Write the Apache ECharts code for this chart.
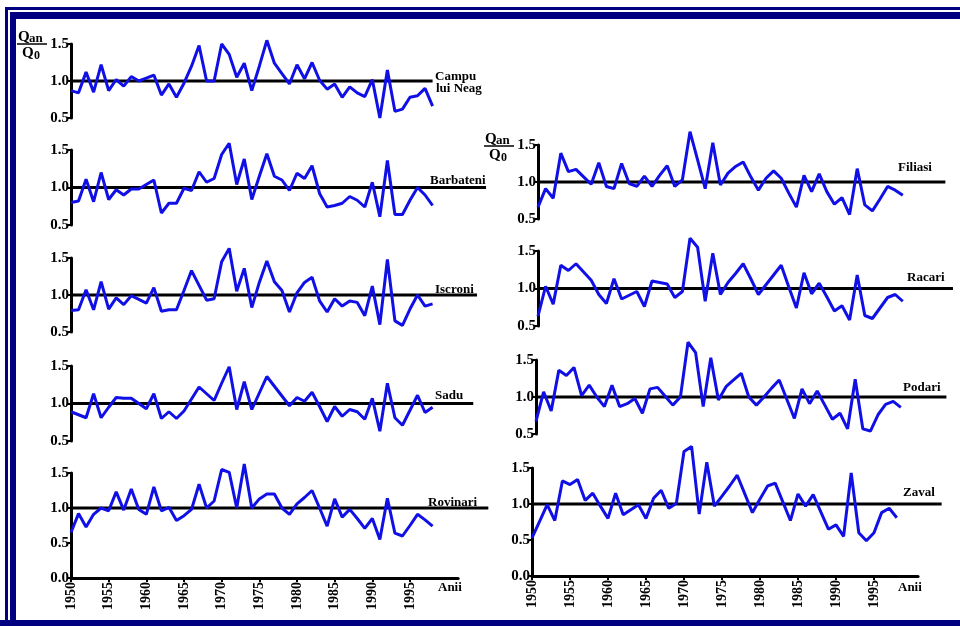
<!DOCTYPE html>
<html>
<head>
<meta charset="utf-8">
<title>Qan/Q0</title>
<script src="https://cdn.jsdelivr.net/npm/echarts@6/dist/echarts.min.js"></script>
<style>
  html, body { margin: 0; padding: 0; background: #fff; }
  #wrap { position: relative; width: 960px; height: 626px; overflow: hidden; }
  #chart { position: absolute; left: 0; top: 0; width: 960px; height: 626px; }
  .band { position: absolute; background: #000080; }
</style>
</head>
<body>
<div id="wrap">
  <div id="chart"></div>
  <!-- navy frame of the scanned figure -->
  <div class="band" style="left:5px;top:7px;width:955px;height:3px"></div>
  <div class="band" style="left:5px;top:7px;width:3px;height:619px"></div>
  <div class="band" style="left:10px;top:12px;width:950px;height:7px"></div>
  <div class="band" style="left:10px;top:12px;width:6px;height:614px"></div>
  <div class="band" style="left:0;top:620px;width:960px;height:6px"></div>
</div>
<script>
// years of the record
const years = [1950, 1951, 1952, 1953, 1954, 1955, 1956, 1957, 1958, 1959,
  1960, 1961, 1962, 1963, 1964, 1965, 1966, 1967, 1968, 1969,
  1970, 1971, 1972, 1973, 1974, 1975, 1976, 1977, 1978, 1979,
  1980, 1981, 1982, 1983, 1984, 1985, 1986, 1987, 1988, 1989,
  1990, 1991, 1992, 1993, 1994, 1995, 1996, 1997, 1998];

// tick labels
const yearTicks = [1950, 1955, 1960, 1965, 1970, 1975, 1980, 1985, 1990, 1995];
const yTicksTop = [0.5, 1.0, 1.5];
const yTicksBottom = [0.0, 0.5, 1.0, 1.5];

// Qan/Q0 per station
const campu = [0.87, 0.84, 1.12, 0.85, 1.22, 0.87, 1.02, 0.93, 1.06, 1.00,
  1.04, 1.08, 0.81, 0.96, 0.78, 0.97, 1.20, 1.48, 1.00, 1.00,
  1.50, 1.36, 1.05, 1.24, 0.87, 1.20, 1.55, 1.24, 1.10, 0.96,
  1.22, 1.03, 1.25, 1.01, 0.89, 0.96, 0.78, 0.92, 0.84, 0.79,
  1.02, 0.50, 1.15, 0.59, 0.62, 0.78, 0.80, 0.90, 0.66];
const barbateni = [0.80, 0.82, 1.11, 0.81, 1.20, 0.84, 0.97, 0.90, 0.98, 0.98,
  1.04, 1.10, 0.66, 0.79, 0.79, 0.99, 0.96, 1.21, 1.07, 1.12,
  1.44, 1.59, 1.04, 1.38, 0.84, 1.15, 1.45, 1.15, 1.10, 0.96,
  1.19, 1.12, 1.29, 0.92, 0.74, 0.76, 0.79, 0.88, 0.83, 0.74,
  1.07, 0.61, 1.36, 0.64, 0.64, 0.83, 1.00, 0.90, 0.76];
const iscroni = [0.79, 0.80, 1.07, 0.80, 1.18, 0.81, 0.96, 0.87, 0.99, 0.94,
  0.89, 1.10, 0.78, 0.80, 0.80, 1.06, 1.33, 1.13, 0.93, 0.95,
  1.45, 1.63, 1.05, 1.36, 0.83, 1.17, 1.46, 1.18, 1.06, 0.77,
  1.03, 1.17, 1.24, 0.92, 0.77, 0.95, 0.85, 0.92, 0.90, 0.72,
  1.12, 0.60, 1.48, 0.65, 0.59, 0.81, 1.00, 0.85, 0.88];
const sadu = [0.89, 0.85, 0.81, 1.13, 0.81, 0.95, 1.08, 1.07, 1.07, 1.00,
  0.93, 1.13, 0.80, 0.89, 0.80, 0.90, 1.06, 1.22, 1.13, 1.04,
  1.27, 1.49, 0.92, 1.29, 0.92, 1.14, 1.36, 1.23, 1.10, 0.97,
  1.08, 1.03, 1.15, 0.96, 0.76, 0.96, 0.83, 0.92, 0.89, 0.79,
  1.07, 0.63, 1.27, 0.81, 0.71, 0.91, 1.11, 0.88, 0.95];
const rovinari = [0.65, 0.92, 0.73, 0.91, 1.00, 0.96, 1.23, 0.97, 1.27, 0.98,
  0.91, 1.30, 0.96, 1.01, 0.82, 0.89, 0.98, 1.34, 1.00, 1.10,
  1.55, 1.51, 1.00, 1.63, 1.00, 1.13, 1.20, 1.20, 1.00, 0.91,
  1.06, 1.15, 1.25, 1.00, 0.74, 1.13, 0.87, 0.98, 0.85, 0.71,
  0.85, 0.55, 1.14, 0.64, 0.60, 0.75, 0.91, 0.83, 0.74];
const filiasi = [0.66, 0.91, 0.78, 1.39, 1.14, 1.17, 1.07, 0.97, 1.26, 0.94,
  0.91, 1.25, 0.98, 0.94, 1.08, 0.94, 1.09, 1.22, 0.94, 1.03,
  1.68, 1.30, 0.91, 1.53, 0.96, 1.12, 1.21, 1.27, 1.07, 0.89,
  1.05, 1.15, 1.05, 0.85, 0.66, 1.09, 0.87, 1.11, 0.87, 0.70,
  0.79, 0.56, 1.18, 0.69, 0.61, 0.77, 0.94, 0.89, 0.82];
const racari = [0.63, 1.03, 0.79, 1.31, 1.24, 1.33, 1.22, 1.11, 0.92, 0.80,
  1.13, 0.86, 0.91, 0.96, 0.76, 1.10, 1.08, 1.06, 0.88, 0.96,
  1.67, 1.55, 0.83, 1.47, 0.92, 1.08, 1.20, 1.33, 1.13, 0.92,
  1.05, 1.18, 1.31, 1.02, 0.74, 1.21, 0.93, 1.07, 0.89, 0.70,
  0.77, 0.58, 1.18, 0.64, 0.60, 0.74, 0.88, 0.92, 0.83];
const podari = [0.67, 1.07, 0.81, 1.36, 1.29, 1.40, 1.02, 1.16, 1.00, 0.87,
  1.16, 0.87, 0.91, 0.98, 0.78, 1.11, 1.13, 1.01, 0.89, 1.00,
  1.74, 1.60, 0.87, 1.53, 0.96, 1.14, 1.23, 1.32, 1.00, 0.89,
  1.00, 1.12, 1.23, 0.97, 0.71, 1.11, 0.91, 1.08, 0.89, 0.70,
  0.78, 0.57, 1.24, 0.57, 0.54, 0.76, 0.90, 0.94, 0.86];
const zaval = [0.53, 0.76, 0.99, 0.77, 1.32, 1.27, 1.34, 1.05, 1.15, 0.97,
  0.80, 1.15, 0.85, 0.92, 0.99, 0.80, 1.08, 1.19, 0.94, 1.01,
  1.73, 1.80, 0.86, 1.58, 0.97, 1.11, 1.25, 1.40, 1.14, 0.88,
  1.07, 1.25, 1.29, 1.03, 0.77, 1.14, 0.97, 1.13, 0.89, 0.65,
  0.71, 0.55, 1.43, 0.60, 0.49, 0.60, 0.88, 0.94, 0.81];

const FONT = '"Liberation Serif", "Times New Roman", serif';
const LINE = '#1010e6';

// layout of the two columns (px per year, end of the year axis)
const leftCol = { pxYear: 7.533, xMax: 2001.4 };
const rightCol = { pxYear: 7.6, xMax: 2000.8 };

// refEnd: where the black 1.0 line stops (in years)
const panels = [
  { data: campu,     col: leftCol,  left: 71,  top: 44,  height: 74,  last: false, refEnd: 1998.0,
    names: [['Campu', 435, 70.5], ['lui Neag', 436, 82.5]] },
  { data: barbateni, col: leftCol,  left: 71,  top: 150, height: 75,  last: false, refEnd: 2005.1,
    names: [['Barbateni', 430, 174.5]] },
  { data: iscroni,   col: leftCol,  left: 71,  top: 258, height: 74,  last: false, refEnd: 2003.9,
    names: [['Iscroni', 435, 283]] },
  { data: sadu,      col: leftCol,  left: 71,  top: 366, height: 75,  last: false, refEnd: 2003.4,
    names: [['Sadu', 435, 389.5]] },
  { data: rovinari,  col: leftCol,  left: 71,  top: 473, height: 105, last: true,  refEnd: 2005.4,
    names: [['Rovinari', 428, 496.5], ['Anii', 438, 581.5]] },
  { data: filiasi,   col: rightCol, left: 538, top: 145, height: 74,  last: false, refEnd: 2003.6,
    names: [['Filiasi', 898, 161.5]] },
  { data: racari,    col: rightCol, left: 538, top: 251, height: 75,  last: false, refEnd: 2004.6,
    names: [['Racari', 907, 271.5]] },
  { data: podari,    col: rightCol, left: 536, top: 360, height: 74,  last: false, refEnd: 2004.0,
    names: [['Podari', 903, 381.5]] },
  { data: zaval,     col: rightCol, left: 532, top: 468, height: 108, last: true,  refEnd: 2003.9,
    names: [['Zaval', 903, 486.5], ['Anii', 898, 581]] }
];

const grid = [], xAxis = [], yAxis = [], series = [], graphic = [];
const n = panels.length;

panels.forEach((p, i) => {
  const yt = p.last ? yTicksBottom : yTicksTop;
  // data grid
  grid.push({
    left: p.left, top: p.top, height: p.height,
    width: (p.col.xMax - 1950) * p.col.pxYear,
    outerBoundsMode: 'none'
  });
  xAxis.push({
    gridIndex: i, type: 'value', min: 1950, max: p.col.xMax,
    show: p.last,
    axisLine: { show: true, onZero: false, lineStyle: { color: '#000', width: 3 } },
    axisTick: { show: true, customValues: yearTicks, length: 4, lineStyle: { color: '#000', width: 2 } },
    axisLabel: {
      customValues: yearTicks, rotate: 90, margin: 4,
      color: '#000', fontFamily: FONT, fontWeight: 'bold', fontSize: 14,
      formatter: v => String(v)
    },
    splitLine: { show: false }
  });
  yAxis.push({
    gridIndex: i, type: 'value', min: yt[0], max: 1.5,
    axisLine: { show: true, onZero: false, lineStyle: { color: '#000', width: 3 } },
    axisTick: { show: true, customValues: yt, length: 3, lineStyle: { color: '#000', width: 2 } },
    axisLabel: {
      customValues: yt, margin: 2,
      color: '#000', fontFamily: FONT, fontWeight: 'bold', fontSize: 15,
      formatter: v => v.toFixed(1)
    },
    splitLine: { show: false }
  });
  series.push({
    type: 'line', xAxisIndex: i, yAxisIndex: i, clip: false,
    symbol: 'none', z: 3,
    lineStyle: { color: LINE, width: 3 },
    data: years.map((y, k) => [y, p.data[k]])
  });
  p.names.forEach(t => {
    graphic.push({
      type: 'text', left: t[1], top: t[2],
      style: { text: t[0], font: 'bold 13px ' + FONT, fill: '#000' }
    });
  });
});

// hidden twin grids, same scale, carrying the Qan/Q0 = 1 line past the axis end
panels.forEach((p, i) => {
  const yt = p.last ? yTicksBottom : yTicksTop;
  grid.push({
    left: p.left, top: p.top, height: p.height,
    width: (p.refEnd - 1950) * p.col.pxYear,
    outerBoundsMode: 'none'
  });
  xAxis.push({ gridIndex: n + i, type: 'value', min: 1950, max: p.refEnd, show: false });
  yAxis.push({ gridIndex: n + i, type: 'value', min: yt[0], max: 1.5, show: false });
  series.push({
    type: 'line', xAxisIndex: n + i, yAxisIndex: n + i, silent: true,
    symbol: 'none', z: 2,
    lineStyle: { color: '#000', width: 3 },
    data: [[1950, 1], [p.refEnd, 1]]
  });
});

// Qan / Q0 axis captions
function fraction(x, y) {
  return [
    { type: 'text', left: x, top: y, style: { text: 'Q', font: 'bold 15px ' + FONT, fill: '#000' } },
    { type: 'text', left: x + 11, top: y + 2, style: { text: 'an', font: 'bold 13px ' + FONT, fill: '#000' } },
    { type: 'line', shape: { x1: x - 1, y1: y + 14, x2: x + 29, y2: y + 14 }, style: { stroke: '#000', lineWidth: 1.5 } },
    { type: 'text', left: x + 4, top: y + 16, style: { text: 'Q', font: 'bold 15px ' + FONT, fill: '#000' } },
    { type: 'text', left: x + 16, top: y + 20, style: { text: '0', font: 'bold 12px ' + FONT, fill: '#000' } }
  ];
}
graphic.push(...fraction(18, 30));
graphic.push(...fraction(485, 132));

const chart = echarts.init(document.getElementById('chart'));
chart.setOption({
  animation: false,
  backgroundColor: '#fff',
  grid: grid,
  xAxis: xAxis,
  yAxis: yAxis,
  series: series,
  graphic: graphic
});
</script>
</body>
</html>
